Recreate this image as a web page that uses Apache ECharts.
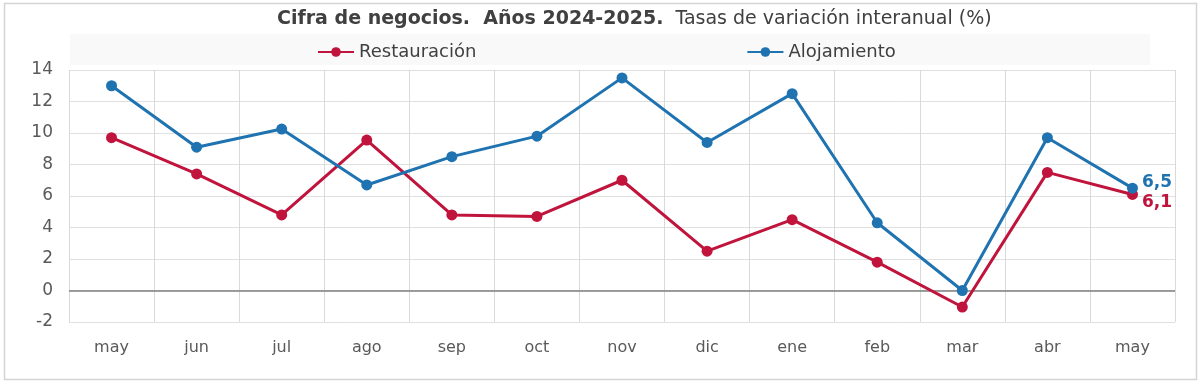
<!DOCTYPE html>
<html>
<head>
<meta charset="utf-8">
<script src="https://cdn.jsdelivr.net/npm/echarts@6/dist/echarts.min.js"></script>
<style>
html,body{margin:0;padding:0;background:#fff;}
#c{width:1200px;height:381px;}
</style>
</head>
<body>
<div id="c"></div>
<script>
const categories = ['may','jun','jul','ago','sep','oct','nov','dic','ene','feb','mar','abr','may'];
const restauracion = [9.7, 7.4, 4.8, 9.55, 4.8, 4.7, 7.0, 2.5, 4.5, 1.8, -1.05, 7.5, 6.1];
const alojamiento = [13.0, 9.1, 10.25, 6.7, 8.5, 9.8, 13.5, 9.4, 12.5, 4.3, 0.0, 9.7, 6.5];
const yTicks = [-2, 0, 2, 4, 6, 8, 10, 12, 14];

const RED = '#C0143C';
const BLUE = '#1F73B0';
const FONT = '"DejaVu Sans", "Open Sans", sans-serif';

function withEndLabel(arr, color, offsetY) {
  return arr.map((v, i) => i === arr.length - 1 ? {
    value: v,
    label: {
      show: true, position: 'right', distance: 4, offset: [0, offsetY],
      color: color, fontSize: 17, fontWeight: 'bold', fontFamily: FONT,
      formatter: p => String(p.value).replace('.', ',')
    }
  } : v);
}

const chart = echarts.init(document.getElementById('c'), null, {renderer: 'canvas'});
chart.setOption({
  animation: false,
  backgroundColor: '#fff',
  graphic: [
    {type: 'rect', left: 2, top: 1, shape: {width: 1192, height: 376}, style: {fill: 'none', stroke: '#d4d4d4', lineWidth: 1.5}, z: -10},
    {type: 'rect', left: 70, top: 34, shape: {width: 1080, height: 31}, style: {fill: '#f9f9f9'}, z: -9}
  ],
  title: {
    text: '{b|Cifra de negocios.  Años 2024-2025.}{n|  Tasas de variación interanual (%)}',
    left: 272, top: 5,
    textStyle: {
      fontWeight: 'normal',
      rich: {
        b: {fontSize: 19, fontWeight: 'bold', color: '#404040', fontFamily: FONT},
        n: {fontSize: 19, fontWeight: 'normal', color: '#404040', fontFamily: FONT}
      }
    }
  },
  legend: {
    top: 38, left: 312,
    itemGap: 270, itemWidth: 36, itemHeight: 12,
    textStyle: {fontSize: 18, color: '#404040', fontFamily: FONT},
    data: ['Restauración', 'Alojamiento']
  },
  grid: {left: 69, right: 25, top: 70, bottom: 59, containLabel: false},
  xAxis: {
    type: 'category', data: categories, boundaryGap: true,
    axisLine: {show: false}, axisTick: {show: false},
    axisLabel: {color: '#595959', fontSize: 16, fontFamily: FONT, margin: 18},
    splitLine: {show: true, lineStyle: {color: '#d9d9d9', width: 1}}
  },
  yAxis: {
    type: 'value', min: -2, max: 14, interval: 2,
    axisLine: {show: false}, axisTick: {show: false},
    axisLabel: {color: '#595959', fontSize: 17, fontFamily: FONT, margin: 16},
    splitLine: {show: true, lineStyle: {color: '#e0e0e0', width: 1}}
  },
  series: [
    {
      name: 'Restauración', type: 'line', data: withEndLabel(restauracion, RED, 8),
      color: RED, lineStyle: {width: 3, color: RED}, symbol: 'circle', symbolSize: 11,
      itemStyle: {color: RED}, z: 3,
      markLine: {
        silent: true, symbol: 'none', label: {show: false},
        lineStyle: {color: '#7f7f7f', width: 1.5, type: 'solid'},
        data: [{yAxis: 0}], z: 1
      }
    },
    {
      name: 'Alojamiento', type: 'line', data: withEndLabel(alojamiento, BLUE, -6),
      color: BLUE, lineStyle: {width: 3, color: BLUE}, symbol: 'circle', symbolSize: 11,
      itemStyle: {color: BLUE}, z: 4
    }
  ]
});
</script>
</body>
</html>
